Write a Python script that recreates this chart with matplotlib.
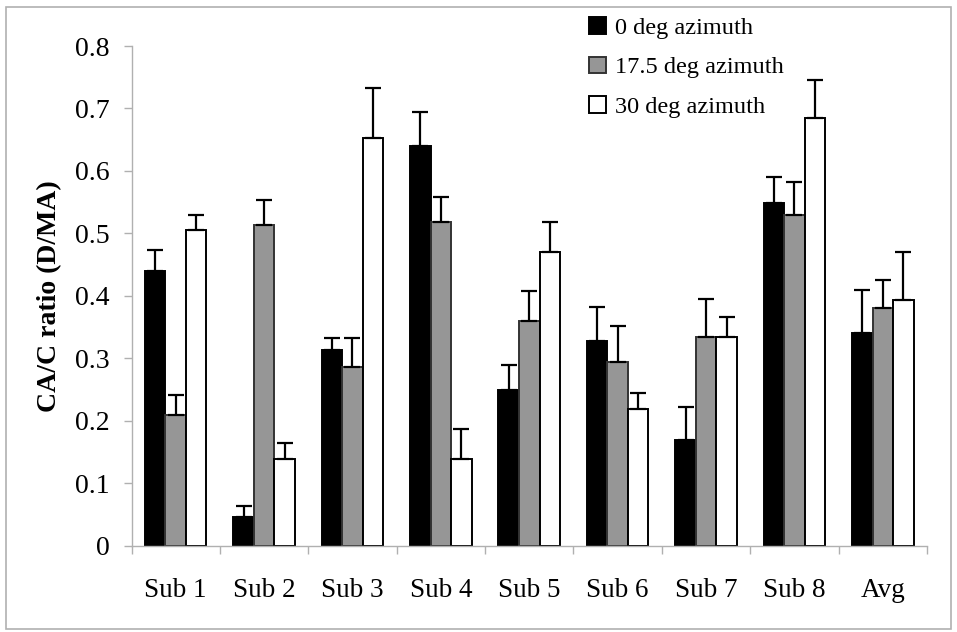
import matplotlib
matplotlib.use("Agg")
import matplotlib.pyplot as plt
import numpy as np
from matplotlib.patches import Rectangle

categories = ["Sub 1", "Sub 2", "Sub 3", "Sub 4", "Sub 5", "Sub 6", "Sub 7", "Sub 8", "Avg"]
series_names = ["0 deg azimuth", "17.5 deg azimuth", "30 deg azimuth"]
az0 = [0.439, 0.046, 0.314, 0.640, 0.249, 0.327, 0.169, 0.549, 0.340]
az175 = [0.209, 0.514, 0.286, 0.519, 0.359, 0.294, 0.334, 0.530, 0.380]
az30 = [0.505, 0.139, 0.653, 0.139, 0.470, 0.219, 0.334, 0.685, 0.393]
err0 = [0.034, 0.018, 0.018, 0.055, 0.040, 0.055, 0.053, 0.041, 0.069]
err175 = [0.032, 0.040, 0.046, 0.040, 0.048, 0.058, 0.061, 0.052, 0.045]
err30 = [0.024, 0.026, 0.079, 0.048, 0.048, 0.026, 0.032, 0.061, 0.077]
yticks = [0, 0.1, 0.2, 0.3, 0.4, 0.5, 0.6, 0.7, 0.8]

plt.rcParams['font.family'] = ['Liberation Serif', 'DejaVu Serif']

fig = plt.figure(figsize=(9.57, 6.32), dpi=100)
ax = fig.add_axes([131.5/957, 1-545.7/632, 795.5/957, (545.7-46)/632])

x = np.arange(len(categories))
w = 0.232
colors = ["black", "#969696", "white"]
edges = ["black", "#333333", "black"]
data = [az0, az175, az30]
errs = [err0, err175, err30]
for i in range(3):
    pos = x + (i - 1) * w
    ax.bar(pos, data[i], width=w, color=colors[i], edgecolor=edges[i], linewidth=1.4,
           label=series_names[i], zorder=2)
    ax.errorbar(pos, data[i], yerr=[np.zeros(len(x)), errs[i]], fmt='none', ecolor='black',
                elinewidth=1.6, capsize=6, capthick=1.6, zorder=3)

ax.set_xlim(-0.5, len(categories) - 0.5)
ax.set_ylim(0, 0.8)
ax.set_yticks(yticks)
ax.set_yticklabels(["0" if v == 0 else f"{v:.1f}" for v in yticks], fontsize=20)
ax.set_xticks(x)
ax.set_xticklabels(categories, fontsize=19.5)
ax.set_xticks(np.arange(-0.5, len(categories), 1.0), minor=True)
ax.tick_params(axis='x', which='major', length=0, pad=23)
ax.tick_params(axis='x', which='minor', length=6, color='#b0b0b0', width=1, direction='out')
ax.tick_params(axis='y', which='major', length=6, color='#b0b0b0', width=1, pad=10)

for s in ['top', 'right']:
    ax.spines[s].set_visible(False)
for s in ['left', 'bottom']:
    ax.spines[s].set_color('#b0b0b0')
    ax.spines[s].set_linewidth(1)

ax.set_ylabel("CA/C ratio (D/MA)", fontsize=20, fontweight='bold')
ax.yaxis.set_label_coords(-0.087, 0.5)

leg = fig.legend(loc='upper left', bbox_to_anchor=(577/957, 1-5/632), frameon=False,
                 fontsize=17.5, handlelength=0.68, handleheight=0.68, handletextpad=0.4,
                 labelspacing=0.72, borderpad=0)

fig.patches.append(Rectangle((6/957, 3/632), (951-6)/957, (627-5)/632, transform=fig.transFigure,
                             fill=False, edgecolor='#b0b0b0', linewidth=1.2))

fig.savefig("out.png", dpi=100)
